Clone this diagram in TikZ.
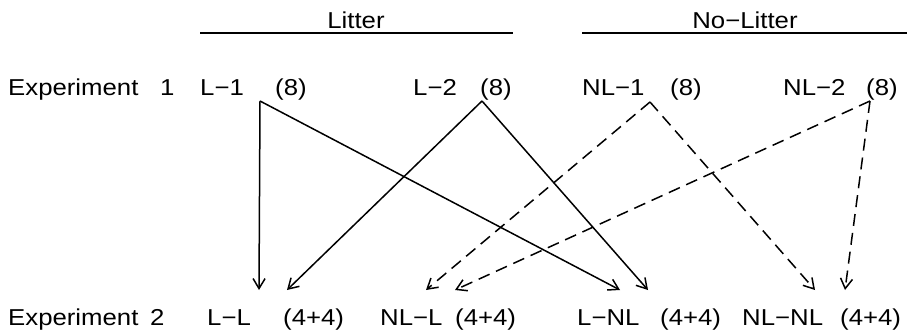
\documentclass[tikz,border=0pt]{standalone}
\usepackage{fontspec}
\setmainfont{Liberation Sans}[FakeStretch=1.12]
\usetikzlibrary{arrows.meta}
\begin{document}
\begin{tikzpicture}[x=1pt,y=-1pt,
  lbl/.style={anchor=base west,inner sep=0pt,font=\fontsize{23}{27}\selectfont},
  hdr/.style={anchor=base,inner sep=0pt,font=\fontsize{23}{27}\selectfont},
  rule/.style={line width=1.7pt},
  conn/.style={line width=1.5pt,-{Straight Barb[length=10pt,width=12pt,line width=1.5pt]}},
  dconn/.style={conn,dash pattern=on 12pt off 7pt}]
\useasboundingbox (0,0) rectangle (917,329);
% headers
\node[hdr] (litter) at (356,29) {Litter};
\node[hdr] (nolitter) at (745,29) {No−Litter};
\coordinate (lA) at (200,33); \coordinate (lB) at (513,33);
\coordinate (nA) at (582,33); \coordinate (nB) at (907,33);
\draw[rule] (lA) -- (lB);
\draw[rule] (nA) -- (nB);
% row 1
\node[lbl] (e1) at (8,95) {Experiment};
\node[lbl] (e1n) at (160,95) {1};
\node[lbl] (l1) at (200,95) {L−1};
\node[lbl] (l1c) at (275,95) {(8)};
\node[lbl] (l2) at (413,95) {L−2};
\node[lbl] (l2c) at (480,95) {(8)};
\node[lbl] (nl1) at (582,95) {NL−1};
\node[lbl] (nl1c) at (670,95) {(8)};
\node[lbl] (nl2) at (783,95) {NL−2};
\node[lbl] (nl2c) at (866,95) {(8)};
% row 2
\node[lbl] (e2) at (8,325) {Experiment};
\node[lbl] (e2n) at (150,325) {2};
\node[lbl] (ll) at (207,325) {L−L};
\node[lbl] (llc) at (283,325) {(4+4)};
\node[lbl] (nll) at (380,325) {NL−L};
\node[lbl] (nllc) at (455,325) {(4+4)};
\node[lbl] (lnl) at (577,325) {L−NL};
\node[lbl] (lnlc) at (660,325) {(4+4)};
\node[lbl] (nlnl) at (742,325) {NL−NL};
\node[lbl] (nlnlc) at (840,325) {(4+4)};
% vertices and targets
\coordinate (v1) at (260,101);
\coordinate (v2) at (482,101);
\coordinate (v3) at (650,102);
\coordinate (v4) at (870,101);
\coordinate (tLL1) at (259,290);
\coordinate (tLL2) at (287,290);
\coordinate (tNLL1) at (426,290);
\coordinate (tNLL2) at (455,290);
\coordinate (tLNL1) at (620,290);
\coordinate (tLNL2) at (648,290);
\coordinate (tNLNL1) at (815,290);
\coordinate (tNLNL2) at (845,290);
\draw[conn] (v1) -- (tLL1);
\draw[conn] (v1) -- (tLNL1);
\draw[conn] (v2) -- (tLL2);
\draw[conn] (v2) -- (tLNL2);
\draw[dconn] (v3) -- (tNLL1);
\draw[dconn] (v3) -- (tNLNL1);
\draw[dconn] (v4) -- (tNLL2);
\draw[dconn] (v4) -- (tNLNL2);
\end{tikzpicture}
\end{document}
